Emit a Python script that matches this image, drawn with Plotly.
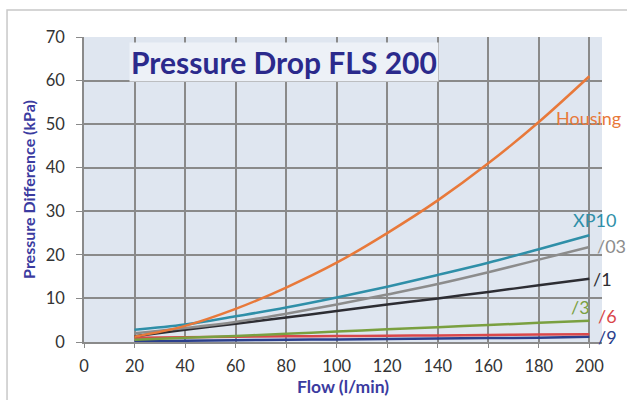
import plotly.graph_objects as go

flow = [20, 40, 60, 80, 100, 120, 140, 160, 180, 200]
housing = [1.2, 3.7, 7.6, 12.5, 18.2, 25.0, 32.5, 41.0, 50.5, 61.0]
xp10 = [2.8, 4.0, 5.9, 7.9, 10.2, 12.7, 15.4, 18.2, 21.3, 24.5]
s03 = [2.0, 3.2, 4.6, 6.5, 8.6, 10.9, 13.3, 16.0, 18.9, 21.8]
s1 = [1.3, 2.8, 4.2, 5.6, 7.1, 8.6, 10.0, 11.5, 13.0, 14.5]
s3 = [0.5, 1.0, 1.4, 1.9, 2.4, 2.9, 3.4, 3.9, 4.4, 4.9]
s6 = [1.0, 1.1, 1.2, 1.3, 1.35, 1.45, 1.5, 1.6, 1.7, 1.8]
s9 = [0.2, 0.3, 0.4, 0.5, 0.6, 0.7, 0.8, 0.9, 1.0, 1.2]

series = [
    ("/9", s9, "#2b3f8c"),
    ("/6", s6, "#d9474a"),
    ("/3", s3, "#7aa040"),
    ("/1", s1, "#2d2d33"),
    ("/03", s03, "#8c8c8c"),
    ("XP10", xp10, "#2f8fa8"),
    ("Housing", housing, "#e8793a"),
]

# label positions: x in paper fraction, y in data units
label_pos = {
    "Housing": (0.973, 51.4),
    "XP10": (0.985, 28.0),
    "/03": (1.019, 22.0),
    "/1": (1.0, 14.5),
    "/3": (0.959, 8.0),
    "/6": (1.01, 6.0),
    "/9": (1.01, 1.2),
}

fig = go.Figure()
for name, ys, col in series:
    fig.add_trace(go.Scatter(x=flow, y=ys, mode="lines", name=name,
                             line=dict(color=col, width=2.5, shape="spline"),
                             showlegend=False, hoverinfo="skip"))
    lx, ly = label_pos[name]
    fig.add_annotation(x=lx, xref="paper", y=ly, text=name, showarrow=False,
                       xanchor="center", yanchor="middle",
                       font=dict(family="Lato", size=18, color=col))

fig.add_annotation(x=0.087, xref="paper", y=64.3, text="<b>Pressure Drop FLS 200</b>",
                   showarrow=False, xanchor="left", yanchor="middle",
                   bgcolor="#edf1f7", borderpad=1,
                   font=dict(family="Lato", size=30, color="#2b2a8c"))

fig.add_shape(type="rect", xref="paper", yref="paper",
              x0=-0.1486, y0=-0.3, x1=1.2, y1=1.0885,
              line=dict(color="#c8c8c8", width=1.5), layer="below")

fig.update_layout(
    width=627, height=400,
    margin=dict(l=84, r=25, t=37, b=58),
    paper_bgcolor="white",
    plot_bgcolor="#dfe6f0",
    font=dict(family="Lato", color="#333333"),
    xaxis=dict(range=[0, 205], tickvals=[0, 20, 40, 60, 80, 100, 120, 140, 160, 180, 200],
               showgrid=True, gridcolor="#8a8a8a", gridwidth=1.5,
               showline=True, linecolor="#8a8a8a", linewidth=1.5,
               ticks="outside", ticklen=4, tickcolor="#8a8a8a",
               ticklabelstandoff=4, automargin=False,
               tickfont=dict(size=16.5, color="#333333"), zeroline=False,
               title=dict(text="<b>Flow (l/min)</b>", font=dict(size=17.5, color="#3b3ba0"), standoff=4)),
    yaxis=dict(range=[0, 70], tickvals=[0, 10, 20, 30, 40, 50, 60, 70],
               showgrid=True, gridcolor="#8a8a8a", gridwidth=1.5,
               showline=True, linecolor="#8a8a8a", linewidth=1.5,
               ticks="outside", ticklen=6, tickcolor="#8a8a8a",
               ticklabelstandoff=8, automargin=False,
               tickfont=dict(size=16.5, color="#333333"), zeroline=False,
               title=dict(text="<b>Pressure Difference (kPa)</b>", font=dict(size=16, color="#3b3ba0"), standoff=6)),
)

fig.write_html("out.html", post_script="document.body.style.margin='0';",
               config={"displayModeBar": False})
